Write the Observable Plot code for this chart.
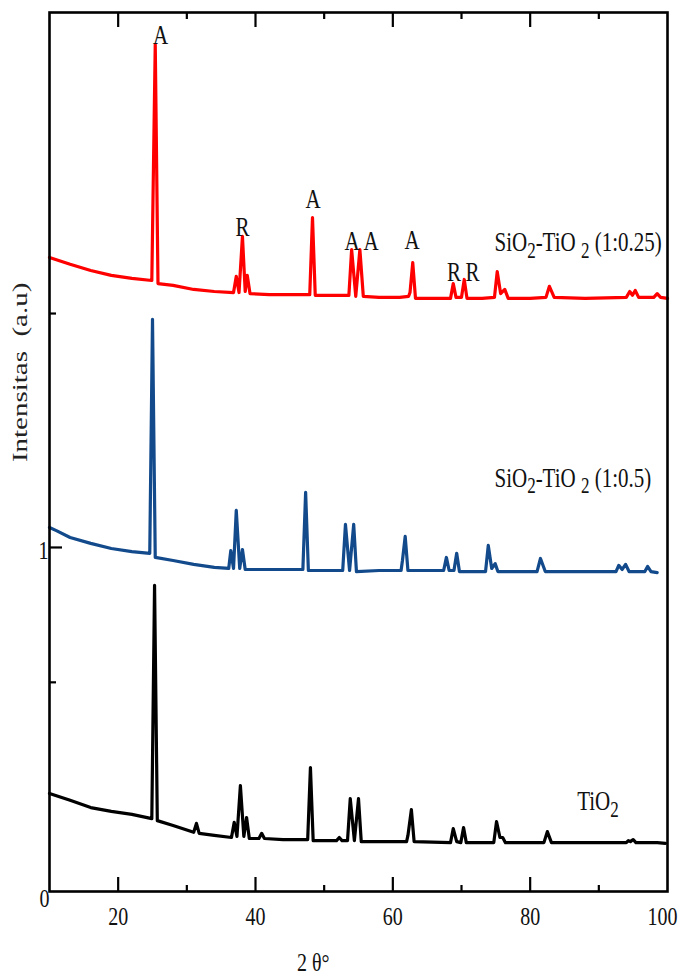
<!DOCTYPE html>
<html><head><meta charset="utf-8">
<script src="https://cdn.jsdelivr.net/npm/d3@7"></script>
<script src="https://cdn.jsdelivr.net/npm/@observablehq/plot@0.6"></script>
<style>body{margin:0;background:#fff} svg{display:block}</style>
</head><body><div id="chart"></div>
<script>
// ---- data (2θ in degrees, intensity in a.u.) ----
const red2theta = [10,13,16,19,22,24.9,25.4,25.8,28,31,34,36.8,37.2,37.6,38.1,38.5,38.8,39.2,42,45,47.9,48.3,48.7,51,53.6,54.0,54.6,55.2,55.7,58,61,62.3,62.5,62.9,63.3,66,68.4,68.8,69.2,70.0,70.4,70.8,73,74.8,75.2,75.7,76.3,76.8,80,82.3,82.8,83.5,88,94.0,94.5,94.9,95.3,95.8,98.0,98.5,99.0,100];
const redI = [1.843,1.823,1.805,1.791,1.782,1.776,2.462,1.767,1.762,1.750,1.744,1.741,1.788,1.741,1.904,1.744,1.791,1.738,1.735,1.735,1.735,1.959,1.733,1.733,1.733,1.866,1.730,1.866,1.730,1.727,1.727,1.730,1.741,1.828,1.724,1.724,1.724,1.767,1.727,1.727,1.779,1.724,1.724,1.727,1.802,1.738,1.750,1.724,1.724,1.727,1.759,1.727,1.724,1.727,1.744,1.733,1.747,1.727,1.727,1.738,1.727,1.724];

const blue2theta = [10,11,13,16,19,22,24.6,25.0,25.4,28,31,34,36.1,36.4,36.8,37.2,37.7,38.1,38.5,42,46.9,47.3,47.7,52.7,53.1,53.7,54.3,54.7,58,61.2,61.4,61.8,62.2,67.4,67.8,68.2,68.9,69.3,69.7,73.5,73.9,74.4,74.9,75.3,81.0,81.5,82.2,92.5,92.9,93.4,93.9,94.4,96.7,97.1,97.6,98.5];
const blueI = [1.058,1.049,1.029,1.012,0.997,0.988,0.983,1.663,0.971,0.962,0.951,0.942,0.939,0.991,0.939,1.108,0.939,0.994,0.936,0.936,0.936,1.160,0.933,0.933,1.067,0.933,1.067,0.930,0.933,0.933,0.962,1.032,0.933,0.933,0.971,0.933,0.933,0.983,0.930,0.930,1.006,0.939,0.953,0.930,0.930,0.968,0.930,0.930,0.948,0.936,0.951,0.930,0.930,0.945,0.930,0.927];

const black2theta = [10,13,16,19,22,24.9,25.3,25.7,28,31.0,31.4,31.8,34,36.5,36.9,37.3,37.8,38.3,38.7,39.1,40.5,40.9,41.3,44,47.6,48.0,48.4,51.8,52.2,52.6,53.4,53.8,54.4,55.0,55.4,59,62.0,62.2,62.7,63.1,68.4,68.8,69.3,69.9,70.3,70.7,74.7,75.1,75.6,76.0,76.4,82.0,82.5,83.1,94.0,94.3,94.6,95.0,95.4,98.5,99.7];
const blackI = [0.285,0.265,0.244,0.233,0.224,0.212,0.890,0.206,0.192,0.172,0.198,0.169,0.163,0.157,0.201,0.160,0.308,0.160,0.215,0.154,0.154,0.169,0.154,0.151,0.151,0.360,0.148,0.148,0.157,0.148,0.148,0.270,0.148,0.270,0.145,0.145,0.145,0.163,0.238,0.145,0.142,0.183,0.145,0.142,0.186,0.142,0.142,0.203,0.157,0.157,0.142,0.142,0.174,0.142,0.142,0.148,0.145,0.151,0.142,0.142,0.140];

const seriesNames = ["SiO₂-TiO ₂ (1:0.25)", "SiO₂-TiO ₂ (1:0.5)", "TiO₂"];
const seriesLabelX = [74.8, 74.8, 86.85];
const seriesLabelY = [1.887, 1.202, 0.262];
const seriesColors = ["#ff0000", "#124a8c", "#000000"];

const peakText = ["A","R","A","A","A","A","R","R"];
const peakX = [26.16, 38.1, 48.4, 54.08, 56.85, 62.8, 68.9, 71.6];
const peakY = [2.488, 1.930, 2.012, 1.890, 1.890, 1.892, 1.800, 1.800];

const xMajorTicks = [20, 40, 60, 80, 100];
const xMinorTicks = [30, 50, 70, 90];
const yMajorTicks = [1];
const yMinorTicks = [0.608, 1.68];
const yTickLabels = [0, 1];
const xTitle = "2 θ°";
const yTitle = "Intensitas\u00a0\u00a0(a.u)";

// ---- layout ----
const W = 680, H = 979, mL = 49, mR = 13, mT = 12, mB = 88;
const xDom = [10, 100], yDom = [0, 2.555];
const pxPerY = (H - mT - mB) / (yDom[1] - yDom[0]);
const pxPerX = (W - mL - mR) / (xDom[1] - xDom[0]);

const rows = (xs, ys) => xs.map((x, i) => ({x, y: ys[i]}));
const series = [rows(red2theta, redI), rows(blue2theta, blueI), rows(black2theta, blackI)];
const labelRows = seriesNames.map((t, i) => ({t, x: seriesLabelX[i], y: seriesLabelY[i]}));
const peakRows = peakText.map((t, i) => ({t, x: peakX[i], y: peakY[i]}));

const font = "Liberation Serif, Times New Roman, serif";
const txt = "#111";
const innerTicks = xMajorTicks.filter(v => v < xDom[1]);
const edgeTicks = xMajorTicks.filter(v => v >= xDom[1]);

const chart = Plot.plot({
  width: W, height: H,
  marginLeft: mL, marginRight: mR, marginTop: mT, marginBottom: mB,
  style: {fontFamily: font, background: "white"},
  x: {domain: xDom, axis: null},
  y: {domain: yDom, axis: null},
  marks: [
    ...series.map((d, i) => Plot.line(d, {x: "x", y: "y", stroke: seriesColors[i], strokeWidth: 3.2, strokeLinejoin: "round", strokeLinecap: "round"})),
    Plot.frame({stroke: "black", strokeWidth: 2.6}),
    // bottom ticks (inward)
    Plot.ruleX(innerTicks, {x: d => d, y1: yDom[0], y2: yDom[0] + 14 / pxPerY, stroke: "black", strokeWidth: 2.2}),
    Plot.ruleX(xMinorTicks, {x: d => d, y1: yDom[0], y2: yDom[0] + 6 / pxPerY, stroke: "black", strokeWidth: 2.2}),
    // top ticks (inward)
    Plot.ruleX(innerTicks, {x: d => d, y1: yDom[1], y2: yDom[1] - 15 / pxPerY, stroke: "black", strokeWidth: 2.2}),
    Plot.ruleX(xMinorTicks, {x: d => d, y1: yDom[1], y2: yDom[1] - 7 / pxPerY, stroke: "black", strokeWidth: 2.2}),
    // left ticks
    Plot.ruleY(yMajorTicks, {y: d => d, x1: xDom[0], x2: xDom[0] + 13 / pxPerX, stroke: "black", strokeWidth: 2.2}),
    Plot.ruleY(yMinorTicks, {y: d => d, x1: xDom[0], x2: xDom[0] + 7 / pxPerX, stroke: "black", strokeWidth: 2.2}),
    // tick labels
    Plot.text(innerTicks, {x: d => d, y: yDom[0], text: d => String(d), dy: 25, fontSize: 20, fill: txt}),
    Plot.text(edgeTicks, {x: d => d, y: yDom[0], text: d => String(d), dy: 25, dx: -5, fontSize: 20, fill: txt}),
    Plot.text([yTickLabels[0]], {x: xDom[0], y: d => d, text: d => String(d), dx: -5, dy: 7, fontSize: 20, fill: txt}),
    Plot.text([yTickLabels[1]], {x: xDom[0], y: d => d, text: d => String(d), dx: -6, dy: 3, fontSize: 20, fill: txt}),
    // titles
    Plot.text([xTitle], {x: 48.4, y: yDom[0], text: d => d, dy: 71, fontSize: 20, fill: txt}),
    Plot.text([yTitle], {x: xDom[0], y: 1.509, text: d => d, dx: -29, rotate: -90, fontSize: 21, fill: "#222"}),
    // peak letters and series names
    Plot.text(peakRows, {x: "x", y: "y", text: "t", fontSize: 21, fill: txt}),
    Plot.text(labelRows, {x: "x", y: "y", text: "t", textAnchor: "start", fontSize: 21, fill: txt})
  ]
});
document.getElementById("chart").append(chart);

// subscripts
d3.select(chart).selectAll("text").each(function() {
  const s = this.textContent;
  if (!s.includes("₂")) return;
  const parts = s.split("₂");
  while (this.firstChild) this.removeChild(this.firstChild);
  parts.forEach((p, i) => {
    const a = document.createElementNS("http://www.w3.org/2000/svg", "tspan");
    a.textContent = p;
    if (i > 0) a.setAttribute("dy", "-5");
    this.appendChild(a);
    if (i < parts.length - 1) {
      const b = document.createElementNS("http://www.w3.org/2000/svg", "tspan");
      b.textContent = "2";
      b.setAttribute("dy", "5");
      b.setAttribute("font-size", "17");
      this.appendChild(b);
    }
  });
});

// stretch glyphs vertically like the reference (scale about each text's anchor)
d3.select(chart).selectAll("text").each(function() {
  const t = this.getAttribute("transform");
  if (!t) return;
  const rotated = /rotate/.test(t);
  this.setAttribute("transform", t + (rotated ? " scale(1.38,1)" : " scale(1,1.3)"));
});
</script>
</body></html>
